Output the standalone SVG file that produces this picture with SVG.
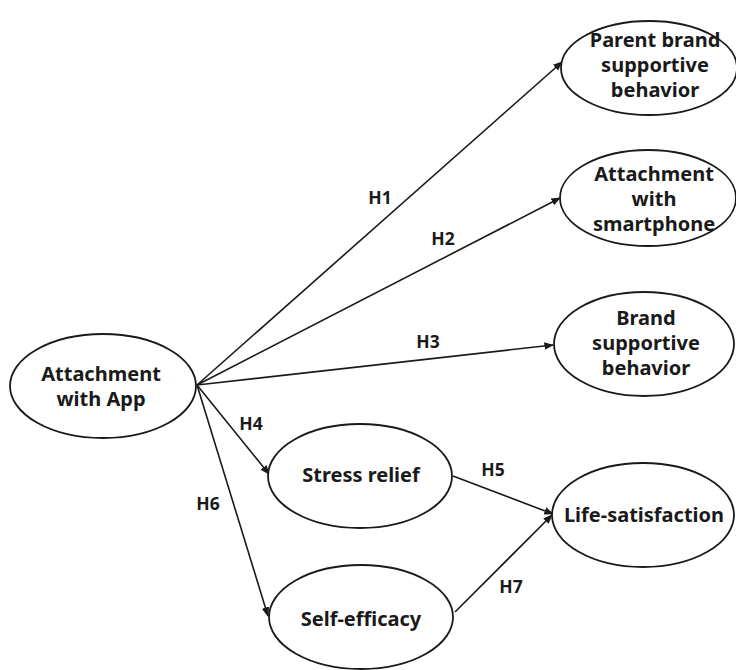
<svg xmlns="http://www.w3.org/2000/svg" width="736" height="670" viewBox="0 0 736 670">
<style>
.n{fill:#fff;stroke:#1a1a1a;stroke-width:1.8}
.t{font-family:"Noto Sans","Open Sans",sans-serif;font-weight:bold;font-size:20px;fill:#1a1a1a;text-anchor:middle}
.l{font-family:"Noto Sans","Open Sans",sans-serif;font-weight:bold;font-size:17.5px;fill:#1a1a1a;text-anchor:middle}
.c{stroke:#1a1a1a;stroke-width:1.6;fill:none;marker-end:url(#a)}
</style>
<defs>
<marker id="a" viewBox="0 0 10 10" refX="9" refY="5" markerWidth="6" markerHeight="6" orient="auto" markerUnits="strokeWidth">
<path d="M0,1 L10,5 L0,9 Z" fill="#1a1a1a"/>
</marker>
</defs>
<rect width="736" height="670" fill="#fff"/>
<g id="connectors">
<line class="c" x1="197" y1="385" x2="562" y2="62"/>
<line class="c" x1="197" y1="385" x2="560" y2="198"/>
<line class="c" x1="197" y1="385" x2="553" y2="345"/>
<line class="c" x1="197" y1="385" x2="269" y2="474"/>
<line class="c" x1="197" y1="385" x2="268" y2="616"/>
<line class="c" x1="453" y1="476" x2="553" y2="514"/>
<line class="c" x1="455" y1="612" x2="552" y2="515"/>
<text class="l" x="380" y="204">H1</text>
<text class="l" x="443" y="245">H2</text>
<text class="l" x="428" y="348">H3</text>
<text class="l" x="251" y="430">H4</text>
<text class="l" x="493" y="476">H5</text>
<text class="l" x="208" y="510">H6</text>
<text class="l" x="511" y="593">H7</text>
</g>
<g id="app">
<ellipse class="n" cx="103" cy="386" rx="93" ry="52"/>
<text class="t" x="101" y="381">Attachment</text>
<text class="t" x="101" y="406">with App</text>
</g>
<g id="parent">
<ellipse class="n" cx="649" cy="68" rx="88" ry="47"/>
<text class="t" x="655" y="47">Parent brand</text>
<text class="t" x="655" y="72">supportive</text>
<text class="t" x="655" y="97">behavior</text>
</g>
<g id="smartphone">
<ellipse class="n" cx="648" cy="198" rx="88" ry="48"/>
<text class="t" x="654" y="181">Attachment</text>
<text class="t" x="654" y="206">with</text>
<text class="t" x="654" y="231">smartphone</text>
</g>
<g id="brand">
<ellipse class="n" cx="644" cy="344" rx="90" ry="52"/>
<text class="t" x="646" y="325">Brand</text>
<text class="t" x="646" y="350">supportive</text>
<text class="t" x="646" y="375">behavior</text>
</g>
<g id="stress">
<ellipse class="n" cx="360" cy="476" rx="92" ry="52"/>
<text class="t" x="361" y="482">Stress relief</text>
</g>
<g id="life">
<ellipse class="n" cx="643" cy="515" rx="91" ry="52"/>
<text class="t" x="644" y="522">Life-satisfaction</text>
</g>
<g id="selfefficacy">
<ellipse class="n" cx="361" cy="617" rx="92" ry="52"/>
<text class="t" x="361" y="626">Self-efficacy</text>
</g>
</svg>
